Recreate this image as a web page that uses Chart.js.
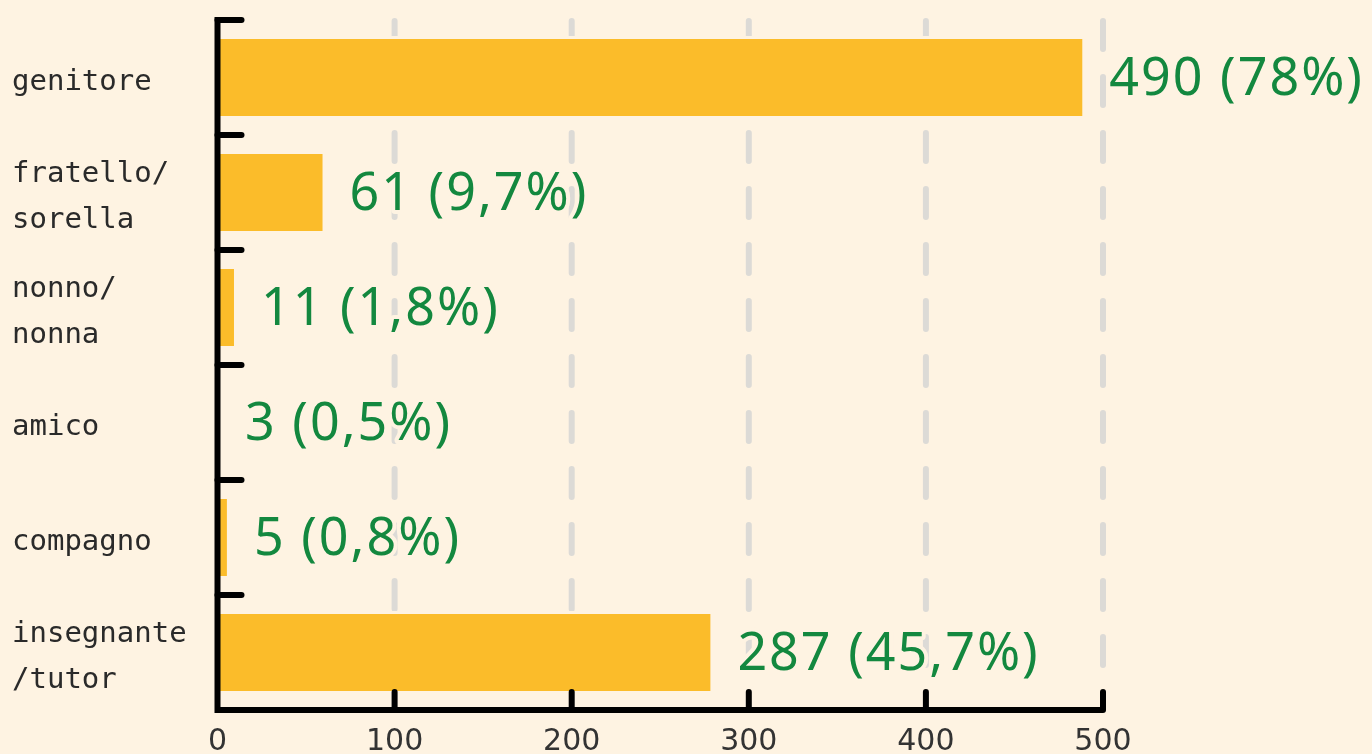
<!DOCTYPE html>
<html>
<head>
<meta charset="utf-8">
<script src="https://cdn.jsdelivr.net/npm/chart.js@4.4.0/dist/chart.umd.min.js"></script>
<style>
  html, body { margin: 0; padding: 0; background: #fef3e2; }
  #wrap { width: 1372px; height: 754px; position: relative; }
</style>
</head>
<body>
<div id="wrap"><canvas id="relChart"></canvas></div>
<script>
// categories (multi-line labels as arrays)
const categories = [
    ['genitore'],
    ['fratello/', 'sorella'],
    ['nonno/', 'nonna'],
    ['amico'],
    ['compagno'],
    ['insegnante', '/tutor']
];
// bar lengths as drawn in the picture
const barValues = [490, 61, 11, 2, 7, 280];
// text shown next to each bar
const countLabels = ['490', '61', '11', '3', '5', '287'];
const percentLabels = ['78%', '9,7%', '1,8%', '0,5%', '0,8%', '45,7%'];
const xTickValues = [0, 100, 200, 300, 400, 500];

const bgColor = '#fef3e2';
const barColor = '#fbbc2a';
const labelGreen = '#13883f';
const gridGray = '#dcdad6';

// custom axes, dashed grid and value labels
const decorPlugin = {
    id: 'decor',
    beforeDatasetsDraw(chart) {
        const { ctx, chartArea, scales: { x } } = chart;
        ctx.save();
        ctx.strokeStyle = gridGray;
        ctx.lineWidth = 6;
        ctx.lineCap = 'round';
        ctx.setLineDash([28, 28]);
        xTickValues.slice(1).forEach(v => {
            const px = x.getPixelForValue(v);
            ctx.beginPath();
            ctx.moveTo(px, chartArea.top + 1);
            ctx.lineTo(px, chartArea.bottom - 22);
            ctx.stroke();
        });
        ctx.restore();
    },
    afterDatasetsDraw(chart) {
        const { ctx, chartArea, scales: { x, y } } = chart;
        ctx.save();
        ctx.strokeStyle = '#000';
        ctx.lineWidth = 6;
        ctx.lineJoin = 'miter';
        ctx.lineCap = 'butt';
        ctx.beginPath();
        ctx.moveTo(chartArea.left, chartArea.top - 3);
        ctx.lineTo(chartArea.left, chartArea.bottom);
        ctx.lineTo(chartArea.right, chartArea.bottom);
        ctx.stroke();

        ctx.lineCap = 'round';
        // y ticks between categories
        for (let i = 0; i < categories.length; i++) {
            const py = y.getPixelForValue(i - 0.5);
            ctx.beginPath();
            ctx.moveTo(chartArea.left, py);
            ctx.lineTo(chartArea.left + 24, py);
            ctx.stroke();
        }
        // x ticks pointing up
        xTickValues.slice(1).forEach(v => {
            const px = x.getPixelForValue(v);
            ctx.beginPath();
            ctx.moveTo(px, chartArea.bottom);
            ctx.lineTo(px, chartArea.bottom - 18);
            ctx.stroke();
        });

        // value labels with halo
        ctx.font = '52px "Noto Sans"';
        ctx.letterSpacing = '2px';
        ctx.textAlign = 'left';
        ctx.textBaseline = 'middle';
        ctx.lineJoin = 'round';
        barValues.forEach((v, i) => {
            const text = countLabels[i] + ' (' + percentLabels[i] + ')';
            const px = x.getPixelForValue(v) + 24;
            const py = y.getPixelForValue(i) + 3;
            ctx.strokeStyle = bgColor;
            ctx.lineWidth = 8;
            ctx.strokeText(text, px, py);
            ctx.fillStyle = labelGreen;
            ctx.fillText(text, px, py);
        });
        ctx.restore();
    }
};

const ctx = document.getElementById('relChart').getContext('2d');
new Chart(ctx, {
    type: 'bar',
    data: {
        labels: categories,
        datasets: [{
            data: barValues,
            backgroundColor: barColor,
            borderColor: bgColor,
            borderWidth: 3,
            borderSkipped: 'start',
            barPercentage: 0.72,
            categoryPercentage: 1
        }]
    },
    options: {
        indexAxis: 'y',
        responsive: true,
        maintainAspectRatio: false,
        animation: false,
        layout: { padding: { left: 12, top: 20, right: 269, bottom: 0 } },
        plugins: {
            legend: { display: false },
            tooltip: { enabled: false }
        },
        scales: {
            x: {
                min: 0,
                max: 500,
                afterFit: scale => {
                    scale.height = 44;
                    scale.paddingLeft = 0;
                    scale.paddingRight = 0;
                },
                grid: { display: false, drawTicks: false },
                border: { display: false },
                ticks: {
                    stepSize: 100,
                    maxRotation: 0,
                    padding: 14,
                    color: '#333',
                    font: { family: 'DejaVu Sans', size: 30 }
                }
            },
            y: {
                afterFit: scale => {
                    scale.width = 205.5;
                    scale.paddingTop = 0;
                    scale.paddingBottom = 0;
                },
                grid: { display: false, drawTicks: false },
                border: { display: false },
                ticks: {
                    crossAlign: 'far',
                    padding: 0,
                    labelOffset: 5,
                    color: '#2a2a2a',
                    font: { family: 'DejaVu Sans Mono', size: 29, lineHeight: 1.6 }
                }
            }
        }
    },
    plugins: [decorPlugin]
});
</script>
</body>
</html>
